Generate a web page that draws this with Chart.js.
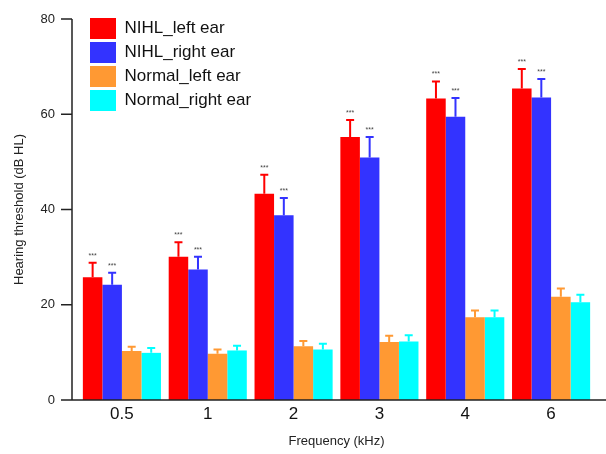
<!DOCTYPE html>
<html lang="en">
<head>
  <meta charset="UTF-8" />
  <title>Hearing threshold by frequency</title>
  <script src="https://cdn.jsdelivr.net/npm/chart.js"></script>
  <style>
    html, body { margin: 0; padding: 0; background: #fff; }
    #wrap { width: 606px; height: 454px; position: relative; }
  </style>
</head>
<body>
  <div id="wrap"><canvas id="chart"></canvas></div>

  <script>
    // --- data ---
    const frequencies = ['0.5', '1', '2', '3', '4', '6'];
    const yTicks = [0, 20, 40, 60, 80];

    const nihlLeft      = [25.8, 30.1, 43.3, 55.2, 63.3, 65.4];
    const nihlLeftErr   = [3.0, 3.0, 4.0, 3.6, 3.6, 4.1];
    const nihlRight     = [24.2, 27.4, 38.8, 50.9, 59.5, 63.5];
    const nihlRightErr  = [2.5, 2.7, 3.6, 4.3, 3.9, 3.9];
    const normLeft      = [10.3, 9.7, 11.3, 12.2, 17.4, 21.7];
    const normLeftErr   = [0.9, 0.9, 1.1, 1.3, 1.4, 1.7];
    const normRight     = [9.9, 10.4, 10.6, 12.3, 17.4, 20.5];
    const normRightErr  = [1.0, 1.0, 1.2, 1.3, 1.4, 1.6];

    const sigNihl = ['***', '***', '***', '***', '***', '***'];

    const FONT = 'Liberation Sans, Arial, Helvetica, sans-serif';

    function ds(label, data, err, sig, color) {
      return {
        label, data, err, sig,
        backgroundColor: color,
        borderColor: color,
        borderWidth: 0,
        categoryPercentage: 0.91,
        barPercentage: 1.0
      };
    }

    // error bars (upper half only) + significance marks
    const errorBars = {
      id: 'errorBars',
      afterDatasetsDraw(chart) {
        const ctx = chart.ctx;
        const y = chart.scales.y;
        chart.data.datasets.forEach((d, i) => {
          const meta = chart.getDatasetMeta(i);
          meta.data.forEach((bar, j) => {
            const top = y.getPixelForValue(d.data[j] + d.err[j]);
            ctx.save();
            ctx.strokeStyle = d.borderColor;
            ctx.lineWidth = 2;
            ctx.beginPath();
            ctx.moveTo(bar.x, bar.y);
            ctx.lineTo(bar.x, top);
            ctx.moveTo(bar.x - 4, top);
            ctx.lineTo(bar.x + 4, top);
            ctx.stroke();
            if (d.sig && d.sig[j]) {
              ctx.fillStyle = '#444';
              ctx.font = '7px ' + FONT;
              ctx.textAlign = 'center';
              ctx.textBaseline = 'middle';
              ctx.fillText(d.sig[j], bar.x, top - 7);
            }
            ctx.restore();
          });
        });
      }
    };

    // axis lines drawn a little outside the plot area, like the original
    const axisLines = {
      id: 'axisLines',
      afterLayout(chart) {
        const lg = chart.legend;
        lg.left = chart.chartArea.left + 8;
        lg.top = chart.chartArea.top - 4;
      },
      afterDraw(chart) {
        const ctx = chart.ctx;
        const a = chart.chartArea;
        const y = chart.scales.y;
        const ax = a.left - 7;
        ctx.save();
        ctx.strokeStyle = '#222';
        ctx.lineWidth = 1.5;
        ctx.beginPath();
        ctx.moveTo(ax, a.top);
        ctx.lineTo(ax, a.bottom);
        ctx.moveTo(ax, a.bottom);
        ctx.lineTo(chart.width, a.bottom);
        y.ticks.forEach(t => {
          const py = y.getPixelForValue(t.value);
          ctx.moveTo(ax - 11, py);
          ctx.lineTo(ax, py);
        });
        ctx.stroke();
        ctx.restore();
      }
    };

    new Chart(document.getElementById('chart'), {
      type: 'bar',
      data: {
        labels: frequencies,
        datasets: [
          ds('NIHL_left ear', nihlLeft, nihlLeftErr, sigNihl, '#ff0000'),
          ds('NIHL_right ear', nihlRight, nihlRightErr, sigNihl, '#3333ff'),
          ds('Normal_left ear', normLeft, normLeftErr, null, '#ff9933'),
          ds('Normal_right ear', normRight, normRightErr, null, '#00ffff')
        ]
      },
      options: {
        responsive: true,
        maintainAspectRatio: false,
        animation: false,
        layout: { padding: { top: 19, right: 12, left: 0, bottom: 0 } },
        scales: {
          x: {
            grid: { display: false, drawTicks: false },
            border: { display: false },
            ticks: { color: '#111', padding: 4, font: { family: FONT, size: 17 } },
            title: {
              display: true, text: 'Frequency (kHz)', color: '#222',
              font: { family: FONT, size: 13 }, padding: { top: 0, bottom: 5 }
            },
            afterFit(s) { s.height = 54; }
          },
          y: {
            min: 0, max: 80,
            afterBuildTicks(s) { s.ticks = yTicks.map(v => ({ value: v })); },
            grid: { display: false, drawTicks: true, tickLength: 21 },
            border: { display: false },
            ticks: { color: '#222', padding: 3, font: { family: FONT, size: 13 } },
            title: {
              display: true, text: 'Hearing threshold (dB HL)', color: '#222',
              font: { family: FONT, size: 13 }, padding: { top: 12, bottom: 0 }
            },
            afterFit(s) { s.width = 79; }
          }
        },
        plugins: {
          legend: {
            position: 'chartArea',
            align: 'start',
            labels: {
              boxWidth: 26, boxHeight: 21, padding: 3,
              color: '#111', font: { family: FONT, size: 17 }
            }
          },
          tooltip: { enabled: false }
        }
      },
      plugins: [errorBars, axisLines]
    });
  </script>
</body>
</html>
